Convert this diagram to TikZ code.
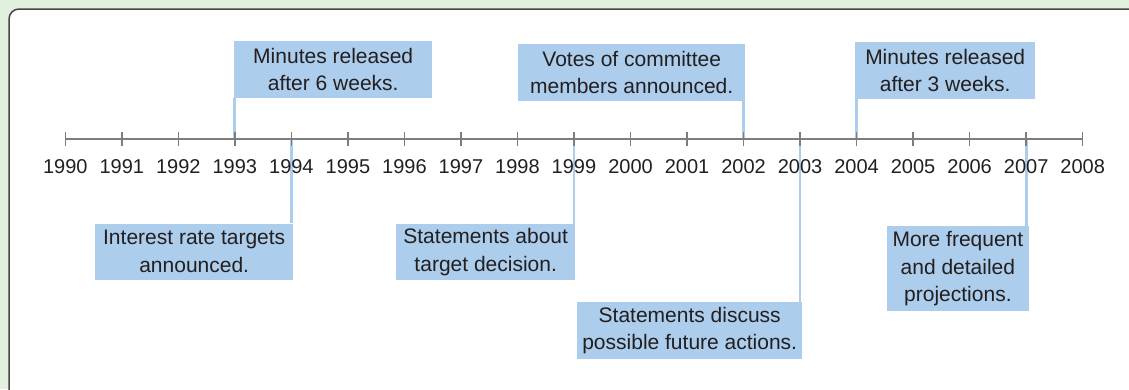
\documentclass[tikz,border=0pt]{standalone}
\usepackage{fontspec}
\setmainfont{Liberation Sans}
\usepackage{xcolor}
\definecolor{PanelGreen}{RGB}{226,240,222}
\definecolor{NoteBlue}{RGB}{172,205,236}
\definecolor{AxisGray}{RGB}{125,125,125}
\definecolor{FrameGray}{RGB}{70,70,70}
\definecolor{InkGray}{RGB}{35,31,32}
\usetikzlibrary{positioning, calc}

\begin{document}
\begin{tikzpicture}[x=1pt, y=-1pt,
		note/.style={fill=NoteBlue, text=InkGray, align=center, inner sep=0pt, anchor=north west, font=\fontsize{21}{27.5}\selectfont},
		stem/.style={NoteBlue, line width=2.8pt},
		yr/.style={text=InkGray, inner sep=0pt, font=\fontsize{20}{24}\selectfont},
		axis/.style={AxisGray, line width=1.6pt}]
	\fill[PanelGreen] (0,0) rectangle (1129,389);
	\useasboundingbox (0,0) rectangle (1129,389);
	\clip (0,0) rectangle (1129,389);
	\draw[FrameGray, fill=white, line width=1.5pt, rounded corners=10pt] (9,9) rectangle (1145,405);
	% tick positions
	\foreach \i in {0,...,18} {
		\pgfmathtruncatemacro\yr{1990+\i}
		\coordinate (t\yr) at (65.3+56.52*\i,139);
	}
	% notes above the axis
	\node[note, minimum width=198, minimum height=57] (b93) at (234,41) {Minutes released\\after 6 weeks.};
	\node[note, minimum width=227, minimum height=57] (b02) at (518,44) {Votes of committee\\members announced.};
	\node[note, minimum width=180, minimum height=57] (b04) at (855,41.7) {Minutes released\\after 3 weeks.};
	% notes below the axis
	\node[note, minimum width=198, minimum height=56] (b94) at (95,223.3) {Interest rate targets\\announced.};
	\node[note, minimum width=179, minimum height=56] (b99) at (396,224) {Statements about\\target decision.};
	\node[note, minimum width=225, minimum height=57] (b03) at (577,302) {Statements discuss\\possible future actions.};
	\node[note, minimum width=142, minimum height=85] (b07) at (886.7,226) {More frequent\\and detailed\\projections.};
	% stems
	\foreach \n/\y in {b93/1993, b02/2002, b04/2004}
		\draw[stem] (t\y |- \n.south) -- (t\y);
	\foreach \n/\y in {b94/1994, b99/1999, b03/2003, b07/2007}
		\draw[stem] (t\y) -- (t\y |- \n.north);
	% axis
	\draw[axis] (t1990) -- (t2008);
	\foreach \y in {1990,...,2008}
		\draw[axis] ($(t\y)+(0,-7)$) -- ($(t\y)+(0,7)$);
	% year labels
	\foreach \y in {1990,...,2008}
		\node[yr] (l\y) at ($(t\y)+(0,28)$) {\y};
\end{tikzpicture}
\end{document}
